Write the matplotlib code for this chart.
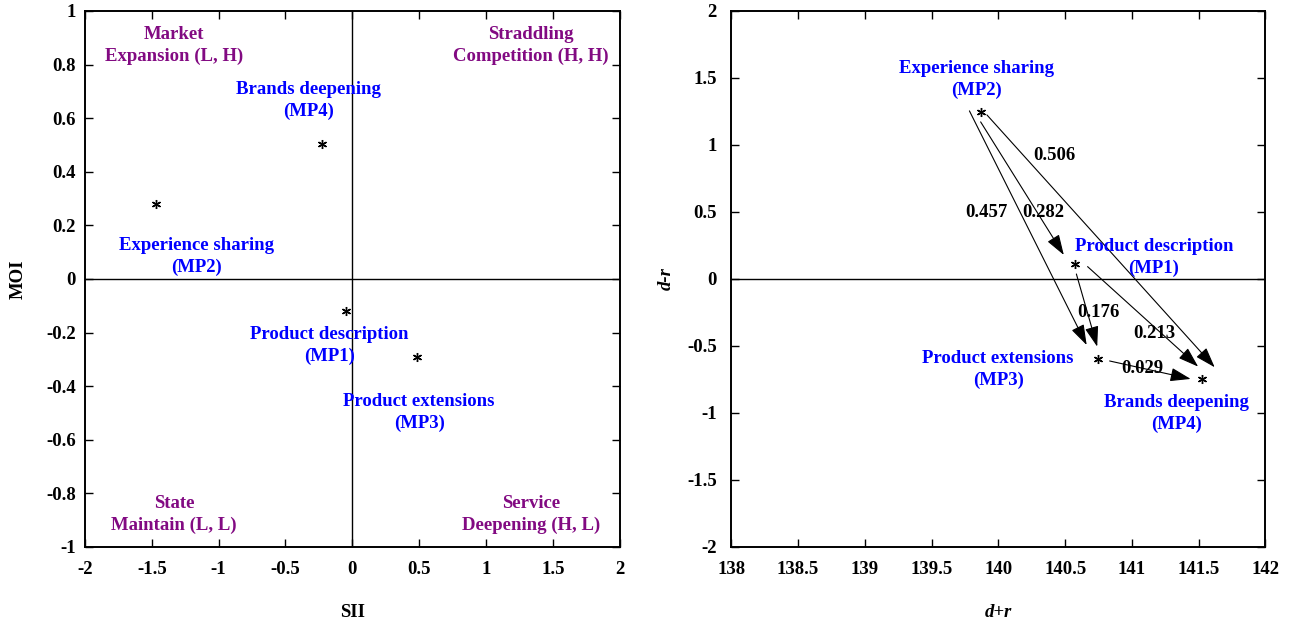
import matplotlib
matplotlib.use("Agg")
import matplotlib.pyplot as plt
from matplotlib.patches import FancyArrowPatch

plt.rcParams['font.family'] = ['Liberation Serif', 'DejaVu Serif']
plt.rcParams['font.weight'] = 'bold'

# ---------------- data ----------------
# Left panel: SII vs MOI
left_names = ["Product description\n(MP1)", "Experience sharing\n(MP2)",
              "Product extensions\n(MP3)", "Brands deepening\n(MP4)"]
sii = [-0.046, -1.467, 0.482, -0.224]
moi = [-0.119, 0.281, -0.291, 0.504]
left_label_x = [-0.169, -1.164, 0.500, -0.330]
left_label_y = [-0.249, 0.083, -0.498, 0.667]

quadrant_names = ["Market\nExpansion (L, H)", "Straddling\nCompetition (H, H)",
                  "State\nMaintain (L, L)", "Service\nDeepening (H, L)"]
quadrant_x = [-1.333, 1.335, -1.333, 1.335]
quadrant_y = [0.870, 0.870, -0.880, -0.880]

# Right panel: d+r vs d-r
d_plus_r = [140.571, 139.867, 140.745, 141.527]
d_minus_r = [0.112, 1.244, -0.597, -0.746]
right_label_x = [141.165, 139.837, 139.998, 141.337]
right_label_y = [0.160, 1.49, -0.675, -1.005]

# influence arrows (from -> to), with weights
arrow_x0 = [139.867, 139.783, 139.914, 140.584, 140.668, 140.833]
arrow_y0 = [1.172, 1.254, 1.224, 0.037, 0.092, -0.612]
arrow_x1 = [140.490, 140.661, 141.620, 140.740, 141.496, 141.440]
arrow_y1 = [0.179, -0.493, -0.659, -0.505, -0.654, -0.746]
weights = ["0.282", "0.457", "0.506", "0.176", "0.213", "0.029"]
weight_x = [140.334, 139.914, 140.418, 140.749, 141.165, 141.081]
weight_y = [0.498, 0.498, 0.918, -0.249, -0.405, -0.666]

left_xticks = [-2, -1.5, -1, -0.5, 0, 0.5, 1, 1.5, 2]
left_yticks = [-1, -0.8, -0.6, -0.4, -0.2, 0, 0.2, 0.4, 0.6, 0.8, 1]
right_xticks = [138, 138.5, 139, 139.5, 140, 140.5, 141, 141.5, 142]
right_yticks = [-2, -1.5, -1, -0.5, 0, 0.5, 1, 1.5, 2]

BLUE = '#0000FF'
PURPLE = '#820A82'
FS = 13.5
LS = 1.35

def fmt(v):
    return '%g' % v

fig = plt.figure(figsize=(12.91, 6.27), dpi=100)
ax1 = fig.add_axes([0.0658, 0.1276, 0.4142, 0.855])
ax2 = fig.add_axes([0.5665, 0.1276, 0.4137, 0.855])

def style(ax, xt, yt, xpad, ypad):
    ax.set_xticks(xt)
    ax.set_yticks(yt)
    ax.set_xticklabels([fmt(v) for v in xt], fontsize=FS, fontweight='bold')
    ax.set_yticklabels([fmt(v) for v in yt], fontsize=FS, fontweight='bold')
    ax.tick_params(direction='in', length=6, width=1, top=True, right=True)
    ax.tick_params(axis='x', pad=xpad)
    ax.tick_params(axis='y', pad=ypad)
    for sp in ax.spines.values():
        sp.set_linewidth(1.4)

# Left panel
ax1.set_xlim(-2, 2)
ax1.set_ylim(-1, 1)
ax1.axhline(0, color='black', lw=1)
ax1.axvline(0, color='black', lw=1)
ax1.plot(sii, moi, linestyle='none', marker=(6, 2, 0), markersize=6.5,
         markeredgewidth=1.0, color='black')
for name, x, y in zip(left_names, left_label_x, left_label_y):
    ax1.text(x, y, name, color=BLUE, fontsize=FS, fontweight='bold',
             ha='center', va='center', multialignment='center', linespacing=LS)
for name, x, y in zip(quadrant_names, quadrant_x, quadrant_y):
    ax1.text(x, y, name, color=PURPLE, fontsize=FS, fontweight='bold',
             ha='center', va='center', multialignment='center', linespacing=LS)
style(ax1, left_xticks, left_yticks, 10, 6.5)
ax1.set_xlabel('SII', fontsize=FS, fontweight='bold')
ax1.set_ylabel('MOI', fontsize=FS, fontweight='bold')
ax1.xaxis.set_label_coords(0.5, -0.123)
ax1.yaxis.set_label_coords(-0.125, 0.5)
ax1.xaxis.label.set_va('center')
ax1.yaxis.label.set_va('center')

# Right panel
ax2.set_xlim(138, 142)
ax2.set_ylim(-2, 2)
ax2.axhline(0, color='black', lw=1)
ax2.plot(d_plus_r, d_minus_r, linestyle='none', marker=(6, 2, 0), markersize=6.5,
         markeredgewidth=1.0, color='black')
for x0, y0, x1, y1 in zip(arrow_x0, arrow_y0, arrow_x1, arrow_y1):
    arr = FancyArrowPatch((x0, y0), (x1, y1),
                          arrowstyle='-|>,head_length=0.9,head_width=0.3',
                          mutation_scale=14, lw=0.8, color='black',
                          shrinkA=0, shrinkB=0)
    ax2.add_patch(arr)
for w, x, y in zip(weights, weight_x, weight_y):
    ax2.text(x, y, w, color='black', fontsize=FS, fontweight='bold',
             ha='center', va='center')
for name, x, y in zip(left_names, right_label_x, right_label_y):
    ax2.text(x, y, name, color=BLUE, fontsize=FS, fontweight='bold',
             ha='center', va='center', multialignment='center', linespacing=LS)
style(ax2, right_xticks, right_yticks, 10, 10.5)
ax2.set_xlabel('d+r', fontsize=FS, fontweight='bold', style='italic')
ax2.set_ylabel('d-r', fontsize=FS, fontweight='bold', style='italic')
ax2.xaxis.set_label_coords(0.5, -0.123)
ax2.yaxis.set_label_coords(-0.1215, 0.5)
ax2.xaxis.label.set_va('center')
ax2.yaxis.label.set_va('center')

fig.savefig('out.png', dpi=100)
